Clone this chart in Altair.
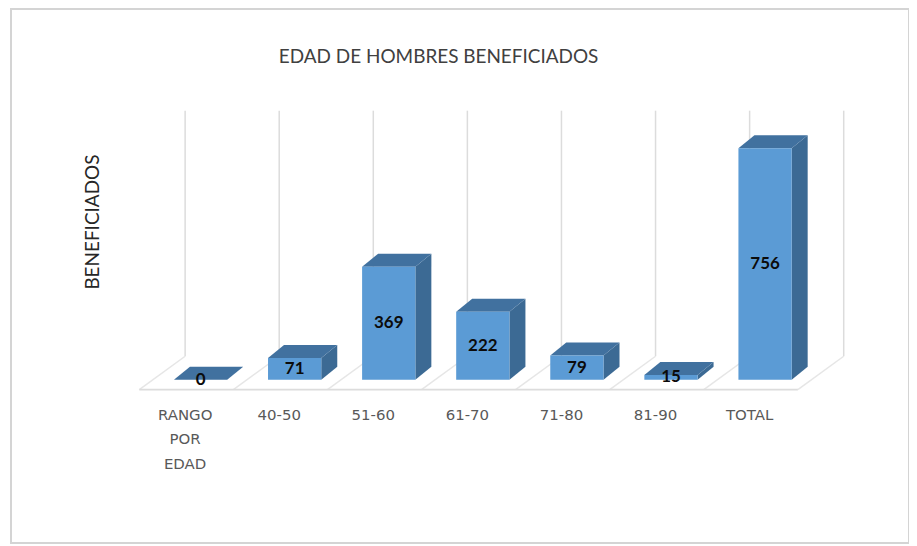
import altair as alt
import pandas as pd

categories = ["RANGO\nPOR\nEDAD", "40-50", "51-60", "61-70", "71-80", "81-90", "TOTAL"]
values = [0, 71, 369, 222, 79, 15, 756]
title_text = "EDAD DE HOMBRES BENEFICIADOS"
y_title_text = "BENEFICIADOS"

W, H = 901, 536
half = 0.283
dx = 0.17
dy = 42.5
back = -0.164
front = -0.651
floor_front = -32.6
floor_back = 76.5
grid_top = 879
x_scale = alt.Scale(domain=[-2.015, 7.530], nice=False, zero=False)
y_scale = alt.Scale(domain=[-534.2, 1211.7], nice=False, zero=False)
GRID = "#dcdcdc"
FONT = "Lato"

def X(f="x"):
    return alt.X(f"{f}:Q", scale=x_scale, axis=None)

def Y(f="y"):
    return alt.Y(f"{f}:Q", scale=y_scale, axis=None)

n = len(values)
idx = list(range(n))

grid = pd.DataFrame({"x": [i + back for i in range(n + 1)],
                     "y": [floor_back] * (n + 1), "y2": [grid_top] * (n + 1)})
grid_lines = alt.Chart(grid).mark_rule(color=GRID, strokeWidth=1.5).encode(
    x=X(), y=Y(), y2="y2:Q")

diag = pd.DataFrame({"x": [i + front for i in range(n + 1)],
                     "x2": [i + back for i in range(n + 1)],
                     "y": [floor_front] * (n + 1), "y2": [floor_back] * (n + 1)})
diag_lines = alt.Chart(diag).mark_rule(color="#e6e6e6", strokeWidth=1.5).encode(
    x=X(), x2="x2:Q", y=Y(), y2="y2:Q")

floor_df = pd.DataFrame({"x": [front], "x2": [n + front], "y": [floor_front]})
floor_line = alt.Chart(floor_df).mark_rule(color=GRID, strokeWidth=2).encode(
    x=X(), x2="x2:Q", y=Y())

side_rows, top_rows, front_rows = [], [], []
for i, v in zip(idx, values):
    r = i + half
    l = i - half
    side_rows += [{"c": i, "x": r, "y": v, "y2": 0},
                  {"c": i, "x": r + dx, "y": v + dy, "y2": dy}]
    top_rows += [{"c": i, "y": v, "x": l, "x2": r},
                 {"c": i, "y": v + dy, "x": l + dx, "x2": r + dx}]
    front_rows.append({"c": i, "x": l, "x2": r, "y": v, "y2": 0})

sides = alt.Chart(pd.DataFrame(side_rows)).mark_area(orient="vertical", color="#3c6a94").encode(
    x=X(), y=Y(), y2="y2:Q", detail="c:N")
tops = alt.Chart(pd.DataFrame(top_rows)).mark_area(orient="horizontal", color="#41719f").encode(
    y=Y(), x=X(), x2="x2:Q", detail="c:N")
fronts = alt.Chart(pd.DataFrame(front_rows)).mark_rect(color="#5b9bd5").encode(
    x=X(), x2="x2:Q", y=Y(), y2="y2:Q")

labels = alt.Chart(pd.DataFrame({"x": idx, "y": [v / 2 for v in values], "t": values})).mark_text(
    font=FONT, fontSize=17, fontWeight="bold", color="#0b0b0b").encode(
    x=X(), y=Y(), text="t:Q")

cat_df = pd.DataFrame({"x": [i + back for i in idx], "y": [-115] * n, "t": categories})
cat_labels = alt.Chart(cat_df).mark_text(
    font="DejaVu Sans", fontSize=15, color="#595959", lineBreak="\n", lineHeight=24.5, baseline="middle"
).encode(x=X(), y=Y(), text="t:N")

title = alt.Chart(pd.DataFrame({"x": [2.53], "y": [1055], "t": [title_text]})).mark_text(
    font=FONT, fontSize=19, color="#404040").encode(x=X(), y=Y(), text="t:N")
y_title = alt.Chart(pd.DataFrame({"x": [-1.14], "y": [515], "t": [y_title_text]})).mark_text(
    font=FONT, fontSize=19, color="#262626", angle=270).encode(x=X(), y=Y(), text="t:N")

chart = alt.layer(
    grid_lines, diag_lines, floor_line, sides, tops, fronts, labels, cat_labels, title, y_title
).properties(
    width=W, height=H,
    padding={"left": 3, "top": 0, "right": 0, "bottom": 0},
    autosize=alt.AutoSizeParams(type="none"),
    background="white",
).configure_view(stroke="#d4d4d4", strokeWidth=2)

chart.save("out.html", embed_options={"renderer": "svg", "actions": False})
